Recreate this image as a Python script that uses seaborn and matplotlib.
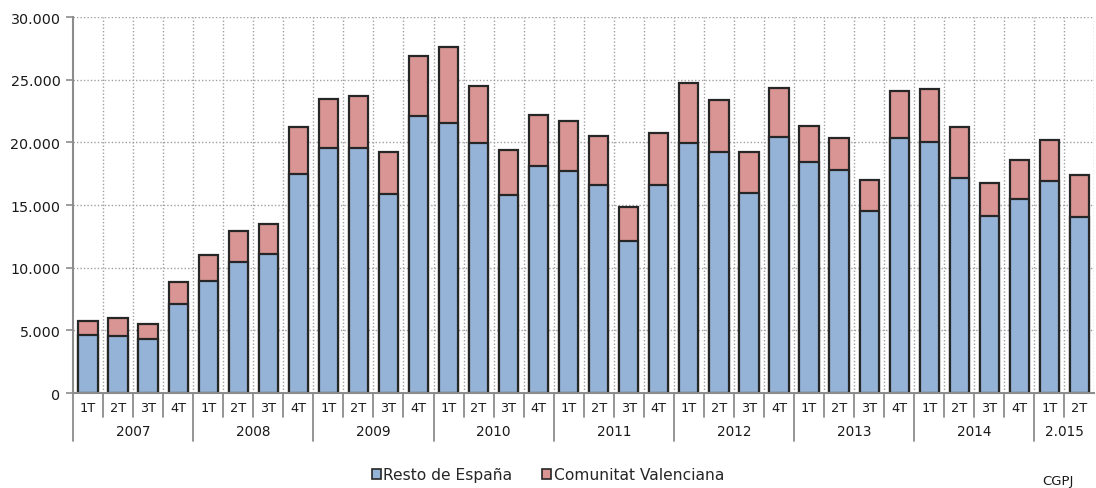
import numpy as np
import pandas as pd
import matplotlib
matplotlib.use("Agg")
import matplotlib.pyplot as plt
import matplotlib.transforms as mtransforms
from matplotlib.patches import Patch
from matplotlib.ticker import FuncFormatter
import seaborn as sns

# Data (quarterly, 2007 1T .. 2015 2T)
years = ["2007", "2008", "2009", "2010", "2011", "2012", "2013", "2014", "2.015"]
quarters = ["1T", "2T", "3T", "4T"] * 8 + ["1T", "2T"]
resto = [4650, 4550, 4280, 7100,
         8950, 10500, 11100, 17500,
         19520, 19520, 15880, 22120,
         21540, 19950, 15830, 18140,
         17690, 16600, 12100, 16600,
         19950, 19200, 15930, 20450,
         18450, 17770, 14550, 20320,
         20000, 17150, 14150, 15480,
         16920, 14070]
total = [5750, 5960, 5500, 8850,
         11050, 12950, 13480, 21250,
         23460, 23720, 19250, 26920,
         27580, 24520, 19390, 22180,
         21730, 20530, 14870, 20770,
         24710, 23380, 19250, 24360,
         21280, 20320, 17020, 24070,
         24250, 21200, 16780, 18590,
         20210, 17420]

df = pd.DataFrame({"pos": range(len(quarters)), "resto": resto, "total": total})

sns.set_style("white")
plt.rcParams["font.family"] = ["DejaVu Sans"]

blue = "#95B3D7"
pink = "#D99594"
edge = "#262626"
grey = "#8C8C8C"
txt = "#1a1a1a"

fig = plt.figure(figsize=(10.96, 4.89), dpi=100)
ax = fig.add_axes([0.0666, 0.194, 0.932, 0.769])

# total (pink on top) then resto (blue) drawn over it
sns.barplot(data=df, x="pos", y="total", color=pink, edgecolor=edge,
            linewidth=1.6, width=0.64, saturation=1, ax=ax, zorder=3)
sns.barplot(data=df, x="pos", y="resto", color=blue, edgecolor=edge,
            linewidth=1.6, width=0.64, saturation=1, ax=ax, zorder=4)

n = len(quarters)
ax.set_xlim(-0.5, n - 0.5)
ax.set_ylim(0, 30000)
ax.set_yticks(range(0, 30001, 5000))
ax.yaxis.set_major_formatter(FuncFormatter(lambda v, p: f"{int(v):,}".replace(",", ".")))
ax.tick_params(axis="y", labelsize=10.3, length=5, width=1.2, color=grey,
               left=True, pad=4, labelcolor=txt)
ax.set_xticks([])
ax.set_xlabel("")
ax.set_ylabel("")

# dotted grid
for v in range(5000, 30001, 5000):
    ax.axhline(v, color="#A0A0A0", linestyle=(0, (1, 1.5)), linewidth=1, zorder=1)
for i in range(n):
    ax.axvline(i + 0.5, color="#A0A0A0", linestyle=(0, (1, 1.5)), linewidth=1, zorder=1)

for s in ["top", "right"]:
    ax.spines[s].set_visible(False)
for s in ["left", "bottom"]:
    ax.spines[s].set_color(grey)
    ax.spines[s].set_linewidth(1.5)
    ax.spines[s].set_zorder(5)

# multi-level category axis
trans = mtransforms.blended_transform_factory(ax.transData, ax.transAxes)
for i, q in enumerate(quarters):
    ax.text(i, -0.037, q, transform=trans, ha="center", va="center",
            fontsize=9.3, color=txt)
for i in range(n):
    b = i - 0.5
    long = i % 4 == 0
    ax.plot([b, b], [0, -0.128 if long else -0.064], transform=trans,
            color=grey, linewidth=1.3, clip_on=False)
for k, y in enumerate(years):
    start = k * 4
    end = min(start + 4, n)
    ax.text((start + end - 1) / 2, -0.101, y, transform=trans, ha="center",
            va="center", fontsize=9.8, color=txt)

handles = [Patch(facecolor=blue, edgecolor=edge, linewidth=1.2, label="Resto de España"),
           Patch(facecolor=pink, edgecolor=edge, linewidth=1.2, label="Comunitat Valenciana")]
fig.legend(handles=handles, loc="center", bbox_to_anchor=(0.5, 0.027), ncol=2,
           frameon=False, handlelength=0.6, handleheight=0.6, handletextpad=0.15,
           columnspacing=1.9, fontsize=11.2)

fig.text(0.951, 0.002, "CGPJ", fontsize=9.5, va="bottom", ha="left", color=txt)

fig.savefig("out.png", dpi=100)
